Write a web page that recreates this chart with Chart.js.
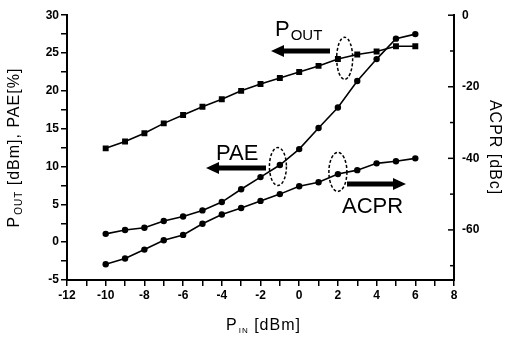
<!DOCTYPE html>
<html>
<head>
<meta charset="utf-8">
<script src="https://cdn.jsdelivr.net/npm/chart.js@4"></script>
<style>
  body { margin: 0; background: #fff; }
  canvas { display: block; }
</style>
</head>
<body>
<canvas id="chart" width="509" height="337"></canvas>
<script>
// input power sweep [dBm]
const pin = [-10, -9, -8, -7, -6, -5, -4, -3, -2, -1, 0, 1, 2, 3, 4, 5, 6];
// output power [dBm]
const pout = [12.4, 13.3, 14.4, 15.7, 16.8, 17.9, 18.9, 20.0, 20.9, 21.7, 22.5, 23.3, 24.2, 24.8, 25.2, 25.9, 25.9];
// power added efficiency [%]
const pae = [1.1, 1.6, 1.9, 2.8, 3.4, 4.2, 5.3, 7.0, 8.6, 10.2, 12.3, 15.1, 17.8, 21.3, 24.2, 26.9, 27.5];
// adjacent channel power ratio [dBc]
const acpr = [-69.6, -68.0, -65.5, -62.9, -61.4, -58.3, -55.7, -53.9, -51.9, -50.0, -47.8, -46.7, -44.4, -43.3, -41.4, -40.8, -40.0];

const xTicks = [-12, -11, -10, -9, -8, -7, -6, -5, -4, -3, -2, -1, 0, 1, 2, 3, 4, 5, 6, 7, 8];
const leftTicks = [-5, -2.5, 0, 2.5, 5, 7.5, 10, 12.5, 15, 17.5, 20, 22.5, 25, 27.5, 30];
const rightTicks = [0, -10, -20, -30, -40, -50, -60, -70];

const tickFont = { family: 'Liberation Sans, Arial, sans-serif', size: 12, weight: 'bold' };

function pts(ys) {
    return pin.map((x, i) => ({ x: x, y: ys[i] }));
}

// draw "P" with a subscript, then the rest of the text
function subText(ctx, x, y, main, sub, rest, size, subSize) {
    ctx.font = size + 'px "Liberation Sans", Arial, sans-serif';
    ctx.fillText(main, x, y);
    x += ctx.measureText(main).width + 1;
    ctx.font = subSize + 'px "Liberation Sans", Arial, sans-serif';
    ctx.fillText(sub, x, y + size * 0.2);
    x += ctx.measureText(sub).width;
    ctx.font = size + 'px "Liberation Sans", Arial, sans-serif';
    ctx.fillText(rest, x, y);
}

function subWidth(ctx, main, sub, rest, size, subSize) {
    ctx.font = size + 'px "Liberation Sans", Arial, sans-serif';
    let w = ctx.measureText(main).width + ctx.measureText(rest).width + 1;
    ctx.font = subSize + 'px "Liberation Sans", Arial, sans-serif';
    return w + ctx.measureText(sub).width;
}

function arrow(ctx, x1, x2, y) {
    // thick arrow from x1 to x2, head at x2
    const dir = x2 > x1 ? 1 : -1;
    const head = 13;
    ctx.beginPath();
    ctx.moveTo(x1, y - 2.5);
    ctx.lineTo(x2 - dir * head, y - 2.5);
    ctx.lineTo(x2 - dir * head, y - 6);
    ctx.lineTo(x2, y);
    ctx.lineTo(x2 - dir * head, y + 6);
    ctx.lineTo(x2 - dir * head, y + 2.5);
    ctx.lineTo(x1, y + 2.5);
    ctx.closePath();
    ctx.fill();
}

function ellipse(ctx, cx, cy, rx, ry) {
    ctx.save();
    ctx.setLineDash([3, 2]);
    ctx.lineWidth = 1.5;
    ctx.beginPath();
    ctx.ellipse(cx, cy, rx, ry, 0, 0, Math.PI * 2);
    ctx.stroke();
    ctx.restore();
}

const extras = {
    id: 'extras',
    afterDraw(chart) {
        const ctx = chart.ctx;
        const xs = chart.scales.x;
        const yl = chart.scales.y;
        const yr = chart.scales.y2;
        ctx.save();
        ctx.fillStyle = '#000';
        ctx.strokeStyle = '#000';
        ctx.textBaseline = 'alphabetic';
        ctx.letterSpacing = '1px';

        // right axis ticks point inward
        ctx.lineWidth = 1.5;
        rightTicks.forEach(v => {
            const y = yr.getPixelForValue(v);
            ctx.beginPath();
            ctx.moveTo(yr.left, y);
            ctx.lineTo(yr.left - (v % 20 === 0 ? 6 : 4), y);
            ctx.stroke();
        });

        // axis titles
        let w = subWidth(ctx, 'P', 'IN', ' [dBm]', 16, 8);
        subText(ctx, (xs.left + xs.right) / 2 - w / 2 + 3, 330, 'P', 'IN', ' [dBm]', 16, 8);

        ctx.save();
        ctx.translate(19, (yl.top + yl.bottom) / 2);
        ctx.rotate(-Math.PI / 2);
        w = subWidth(ctx, 'P', 'OUT', ' [dBm], PAE[%]', 16, 10);
        subText(ctx, -w / 2, 0, 'P', 'OUT', ' [dBm], PAE[%]', 16, 10);
        ctx.restore();

        ctx.save();
        ctx.translate(490, (yr.top + yr.bottom) / 2);
        ctx.rotate(Math.PI / 2);
        ctx.font = '16px "Liberation Sans", Arial, sans-serif';
        ctx.textAlign = 'center';
        ctx.fillText('ACPR [dBc]', 0, 0);
        ctx.restore();

        // curve labels
        ctx.letterSpacing = '0px';
        subText(ctx, 275, 36, 'P', 'OUT', '', 22, 15);
        ctx.font = '22px "Liberation Sans", Arial, sans-serif';
        ctx.fillText('PAE', 216, 160);
        ctx.fillText('ACPR', 342, 213);

        arrow(ctx, 330, 271, 51);
        arrow(ctx, 266, 206, 168);
        arrow(ctx, 347, 406, 184);

        ellipse(ctx, xs.getPixelForValue(2.35), yl.getPixelForValue(24.3), 8, 21);
        ellipse(ctx, xs.getPixelForValue(-1.1), yl.getPixelForValue(10), 8.5, 19);
        ellipse(ctx, xs.getPixelForValue(2), yr.getPixelForValue(-43.8), 9, 19.5);
        ctx.restore();
    }
};

const lineStyle = {
    borderColor: '#000',
    backgroundColor: '#000',
    borderWidth: 1.6,
    pointBorderWidth: 0,
    tension: 0
};

new Chart(document.getElementById('chart'), {
    type: 'line',
    data: {
        datasets: [
            { ...lineStyle, label: 'Pout', data: pts(pout), yAxisID: 'y', pointStyle: 'rect', pointRadius: 4.2 },
            { ...lineStyle, label: 'PAE', data: pts(pae), yAxisID: 'y', pointStyle: 'circle', pointRadius: 3.2 },
            { ...lineStyle, label: 'ACPR', data: pts(acpr), yAxisID: 'y2', pointStyle: 'circle', pointRadius: 3.2 }
        ]
    },
    options: {
        responsive: false,
        animation: false,
        layout: { padding: { top: 15, left: 0, right: 0, bottom: 0 } },
        plugins: {
            legend: { display: false },
            tooltip: { enabled: false }
        },
        scales: {
            x: {
                type: 'linear',
                min: -12,
                max: 8,
                afterBuildTicks: s => { s.ticks = xTicks.map(v => ({ value: v })); },
                afterFit: s => { s.height = 57; },
                border: { color: '#000', width: 2 },
                grid: { drawOnChartArea: false, color: '#000', tickLength: 6, lineWidth: 1.5 },
                ticks: {
                    color: '#000', font: tickFont, padding: 2,
                    autoSkip: false, maxRotation: 0,
                    callback: v => (v % 2 === 0 ? v : '')
                }
            },
            y: {
                position: 'left',
                min: -5,
                max: 30,
                afterBuildTicks: s => { s.ticks = leftTicks.map(v => ({ value: v })); },
                afterFit: s => { s.width = 67; },
                border: { color: '#000', width: 2 },
                grid: { drawOnChartArea: false, color: '#000', tickLength: 6, lineWidth: 1.5 },
                ticks: {
                    color: '#000', font: tickFont, padding: 2, autoSkip: false,
                    callback: v => (v % 5 === 0 ? v : '')
                }
            },
            y2: {
                position: 'right',
                min: -74,
                max: 0,
                afterBuildTicks: s => { s.ticks = rightTicks.map(v => ({ value: v })); },
                afterFit: s => { s.width = 55; },
                border: { color: '#000', width: 2 },
                grid: { drawOnChartArea: false, drawTicks: false },
                ticks: {
                    color: '#000', font: tickFont, padding: 8, autoSkip: false,
                    callback: v => (v % 20 === 0 ? v : '')
                }
            }
        }
    },
    plugins: [extras]
});
</script>
</body>
</html>
